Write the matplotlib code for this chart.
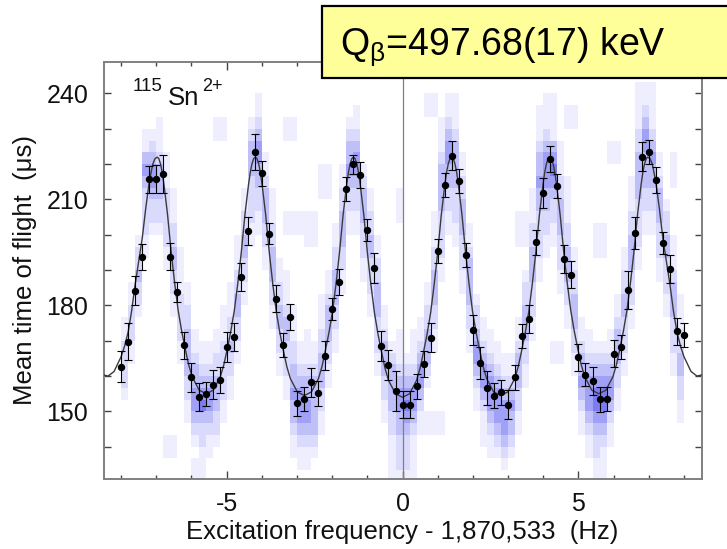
import numpy as np
import matplotlib
matplotlib.use("Agg")
import matplotlib.pyplot as plt
from matplotlib.colors import ListedColormap, BoundaryNorm
from matplotlib.patches import Rectangle
from matplotlib.ticker import FixedLocator, FuncFormatter

plt.rcParams["font.family"] = ["Liberation Sans", "DejaVu Sans"]
plt.rcParams["mathtext.fontset"] = "custom"
plt.rcParams["mathtext.rm"] = "Liberation Sans"
plt.rcParams["mathtext.it"] = "Liberation Sans:italic"
plt.rcParams["axes.unicode_minus"] = False

# ---- measured mean time of flight per excitation frequency ----
freq = [-8.0, -7.8, -7.6, -7.4, -7.2, -7.0, -6.8, -6.6, -6.4, -6.2,
        -6.0, -5.8, -5.6, -5.4, -5.2, -5.0, -4.8, -4.6, -4.4, -4.2,
        -4.0, -3.8, -3.6, -3.4, -3.2, -3.0, -2.8, -2.6, -2.4, -2.2,
        -2.0, -1.8, -1.6, -1.4, -1.2, -1.0, -0.8, -0.6, -0.4, -0.2,
        0.0, 0.2, 0.4, 0.6, 0.8, 1.0, 1.2, 1.4, 1.6, 1.8,
        2.0, 2.2, 2.4, 2.6, 2.8, 3.0, 3.2, 3.4, 3.6, 3.8,
        4.0, 4.2, 4.4, 4.6, 4.8, 5.0, 5.2, 5.4, 5.6, 5.8,
        6.0, 6.2, 6.4, 6.6, 6.8, 7.0, 7.2, 7.4, 7.6, 7.8, 8.0]

tof = [162.6, 169.7, 184.2, 193.7, 215.7, 215.8, 217.1, 193.8, 183.7, 168.7,
       159.6, 154.1, 155.0, 157.6, 159.0, 168.2, 171.0, 188.0, 201.0, 223.4,
       217.4, 200.3, 181.9, 168.8, 176.8, 152.3, 153.6, 158.2, 155.1, 165.8,
       179.1, 186.7, 213.0, 219.9, 216.9, 201.4, 190.6, 168.6, 163.2, 155.7,
       151.9, 151.9, 157.1, 163.4, 170.9, 195.5, 214.1, 222.4, 215.2, 194.3,
       173.1, 163.7, 156.6, 154.5, 155.4, 151.9, 159.6, 171.4, 176.2, 197.9,
       211.8, 221.4, 213.9, 193.1, 188.7, 165.3, 160.4, 158.7, 153.4, 153.6,
       166.3, 168.2, 184.4, 200.4, 222.1, 223.5, 215.5, 197.6, 190.3, 172.7, 171.6]

tof_err = [4.4, 5.2, 4.1, 3.6, 3.9, 3.9, 5.4, 3.9, 2.8, 3.9,
           4.0, 4.0, 3.4, 4.2, 3.7, 4.2, 4.0, 4.0, 3.9, 5.2,
           3.6, 3.0, 3.9, 3.5, 3.7, 3.5, 3.4, 4.0, 3.6, 4.0,
           3.1, 3.7, 3.5, 2.8, 3.7, 3.1, 4.2, 4.2, 4.2, 5.7,
           3.8, 3.8, 3.6, 3.8, 4.2, 3.4, 3.4, 4.1, 3.4, 3.3,
           4.3, 4.4, 4.8, 3.5, 3.5, 4.1, 3.5, 3.4, 3.9, 3.5,
           4.3, 3.6, 3.4, 4.0, 3.8, 3.9, 3.2, 4.0, 3.6, 3.4,
           3.8, 3.4, 5.3, 4.5, 4.1, 3.4, 3.8, 3.1, 4.0, 3.8, 3.5]

# ---- fitted Ramsey resonance curve ----
fit_freq = [-8.5, -8.37, -8.2, -8.0, -7.9, -7.8, -7.7, -7.6, -7.5, -7.4,
            -7.3, -7.2, -7.1, -7.04, -6.975,
            -6.93, -6.88, -6.83, -6.78, -6.68, -6.58, -6.48, -6.38, -6.28, -6.18,
            -6.08, -5.98, -5.78, -5.58,
            -5.38, -5.18, -5.08, -4.98, -4.88, -4.78, -4.68, -4.58, -4.48, -4.38,
            -4.33, -4.28, -4.23, -4.185,
            -4.14, -4.09, -4.04, -3.99, -3.89, -3.79, -3.69, -3.59, -3.49, -3.39,
            -3.29, -3.19, -2.99, -2.79,
            -2.59, -2.39, -2.29, -2.19, -2.09, -1.99, -1.89, -1.79, -1.69, -1.59,
            -1.54, -1.49, -1.44, -1.395,
            -1.35, -1.3, -1.25, -1.2, -1.1, -1.0, -0.9, -0.8, -0.7, -0.6,
            -0.5, -0.4, -0.2, 0.0,
            0.2, 0.4, 0.5, 0.6, 0.7, 0.8, 0.9, 1.0, 1.1, 1.2,
            1.25, 1.3, 1.35, 1.395,
            1.44, 1.49, 1.54, 1.59, 1.69, 1.79, 1.89, 1.99, 2.09, 2.19,
            2.29, 2.39, 2.59, 2.79,
            2.99, 3.19, 3.29, 3.39, 3.49, 3.59, 3.69, 3.79, 3.89, 3.99,
            4.04, 4.09, 4.14, 4.185,
            4.23, 4.28, 4.33, 4.38, 4.48, 4.58, 4.68, 4.78, 4.88, 4.98,
            5.08, 5.18, 5.38, 5.58,
            5.78, 5.98, 6.08, 6.18, 6.28, 6.38, 6.48, 6.58, 6.68, 6.78,
            6.83, 6.88, 6.93, 6.975,
            7.04, 7.1, 7.2, 7.3, 7.4, 7.5, 7.6, 7.7, 7.8, 7.9,
            8.0, 8.2, 8.37, 8.5]

fit_tof = [160.3, 160.0, 161.3, 165.5, 168.5, 172.5, 178.5, 186.0, 192.5, 199.0,
           207.5, 215.0, 220.0, 221.5, 222.0,
           221.6, 220.1, 217.6, 214.1, 205.7, 195.4, 186.5, 178.7, 172.8, 167.8,
           163.2, 159.8, 156.0, 155.0,
           156.0, 159.8, 163.2, 167.8, 172.8, 178.7, 186.5, 195.4, 205.7, 214.1,
           217.6, 220.1, 221.6, 222.0,
           221.6, 220.1, 217.6, 214.0, 205.6, 195.2, 186.2, 178.3, 172.4, 167.4,
           162.7, 159.3, 155.5, 154.5,
           155.5, 159.3, 162.7, 167.4, 172.4, 178.3, 186.2, 195.2, 205.6, 214.0,
           217.6, 220.1, 221.6, 222.0,
           221.6, 220.1, 217.6, 214.0, 205.5, 195.0, 186.0, 178.0, 172.0, 167.0,
           162.3, 158.8, 155.0, 154.0,
           155.0, 158.8, 162.3, 167.0, 172.0, 178.0, 186.0, 195.0, 205.5, 214.0,
           217.6, 220.1, 221.6, 222.0,
           221.6, 220.1, 217.6, 214.0, 205.6, 195.2, 186.2, 178.3, 172.4, 167.4,
           162.7, 159.3, 155.5, 154.5,
           155.5, 159.3, 162.7, 167.4, 172.4, 178.3, 186.2, 195.2, 205.6, 214.0,
           217.6, 220.1, 221.6, 222.0,
           221.6, 220.1, 217.6, 214.1, 205.7, 195.4, 186.5, 178.7, 172.8, 167.8,
           163.2, 159.8, 156.0, 155.0,
           156.0, 159.8, 163.2, 167.8, 172.8, 178.7, 186.5, 195.4, 205.7, 214.1,
           217.6, 220.1, 221.6, 222.0,
           221.5, 220.0, 215.0, 207.5, 199.0, 192.5, 186.0, 178.5, 172.5, 168.5,
           165.5, 161.3, 160.0, 160.3]

# ---- single-ion time-of-flight density map ----
# one entry per frequency interval; "row:levels" gives shade levels
# starting at that 10/3 us row (row 0 = 130 us)
tof_bin_edges = np.linspace(130.0, 250.0, 37)
hist_columns = [
    "7:1222211", "10:1122211", "14:1223221", "19:11222234311",
    "21:122344321", "21:1223332111", "2:11 18:1122222111",
    "2:11 14:11223322111", "10:1122221111", "5:112233332211",
    "0:1101234433211", "0:111223543211", "2:1123443211",
    "3:1223332211 29:11", "5:1122222111 29:11", "7:1122322111",
    "10:11223322111", "15:1122332211", "20:11222233321",
    "21:112233443211", "18:1122333211", "13:112233322111",
    "9:1122332211", "7:11222332111 21:11 29:11",
    "2:1123343322111 21:11 29:11", "1:11234443211 21:11",
    "1:112344332111 20:111", "2:1233333211 20:111",
    "4:112233322111 24:111", "8:1122333211 24:111",
    "11:11223332211", "16:11223332211", "21:1122343321",
    "21:11223443211", "17:1122233321", "14:11222332211",
    "9:112223332211", "5:1122333211", "0:111122333321",
    "0:1222334432111 22:111", "0:12223454321", "0:1111234432111",
    "4:1123443211", "4:1100123332211 31:11",
    "4:11 11:112233322111 31:11", "4:11 17:11222233332111",
    "21:112233443211", "20:1122233332111", "16:112223332211",
    "11:11223333211", "6:1123443221", "3:11123443211",
    "2:11234443211", "2:1234443211", "1:1234443211", "2:123343211",
    "4:1122333211 20:111", "8:1122333221 20:111",
    "12:1122233322111", "17:112222334332111", "19:11223344432111",
    "10:11 20:11223454321 29:1111", "10:11 16:1122233322111",
    "13:1122333221111 30:11", "9:11223332211 30:11",
    "4:1123433211", "2:11234443211", "0:112234554321 19:111",
    "0:111234554321 19:111", "3:1123443211 27:11",
    "6:1122333211 27:11", "9:11222332211", "13:1122233322111",
    "18:1122223333221111", "21:1122333443211", "21:1122334321111",
    "17:11222333211", "14:1122233221", "9:112223332111 25:111",
    "5:11223322111",
]
shade_colors = ["#eeeefe", "#dadafc", "#c0c0f9", "#a0a0f6", "#7c7cf2"]

density = np.zeros((len(tof_bin_edges) - 1, len(freq) - 1))
for col, spec in enumerate(hist_columns):
    for seg in spec.split():
        start, levels = seg.split(":")
        for i, ch in enumerate(levels):
            density[int(start) + i, col] = int(ch)
density = np.ma.masked_equal(density, 0)

fig = plt.figure(figsize=(7.27, 5.49), dpi=100)
ax = fig.add_axes([0.1424, 0.1284, 0.8226, 0.7592])

cmap = ListedColormap(shade_colors)
norm = BoundaryNorm([0.5, 1.5, 2.5, 3.5, 4.5, 5.5], cmap.N)
ax.pcolormesh(freq, tof_bin_edges, density, cmap=cmap, norm=norm,
              edgecolors="none", linewidth=0, antialiased=False, zorder=1)

ax.axvline(0, color="#808080", lw=0.9, zorder=2)
ax.plot(fit_freq, fit_tof, color="#3a3a3a", lw=1.0, zorder=3)
ax.errorbar(freq, tof, yerr=tof_err, fmt="o", color="black", ms=4.3,
            elinewidth=0.8, capsize=2.6, capthick=0.8, zorder=4)

ax.set_xlim(-8.5, 8.5)
ax.set_ylim(131, 249)

ax.xaxis.set_major_locator(FixedLocator([-5, 0, 5]))
ax.xaxis.set_minor_locator(FixedLocator([v for v in range(-8, 9) if v % 5 != 0]))
ax.yaxis.set_major_locator(FixedLocator(list(range(140, 250, 10))))
ax.yaxis.set_major_formatter(FuncFormatter(lambda v, p: f"{v:.0f}" if round(v) % 30 == 0 else ""))

ax.tick_params(which="both", direction="in", top=True, right=True,
               color="#444444", width=1.0, labelsize=18, labelcolor="#111111")
ax.tick_params(axis="x", which="major", length=5.5, pad=9.5)
ax.tick_params(axis="x", which="minor", length=3)
ax.tick_params(axis="y", which="major", length=5, pad=11)

for sp in ax.spines.values():
    sp.set_color("#808080")
    sp.set_linewidth(1.4)

ax.set_xlabel("Excitation frequency - 1,870,533  (Hz)", fontsize=18.5, color="#111111")
ax.set_ylabel("Mean time of flight  (μs)", fontsize=18.5, color="#111111")
ax.xaxis.set_label_coords(0.5, -0.1)
ax.yaxis.set_label_coords(-0.112, 0.5)

# ion label: mass number, element, charge state
label_anchor = (0.0493, 0.896)
ax.annotate("115", xy=label_anchor, xycoords="axes fraction", xytext=(0, 10),
            textcoords="offset points", fontsize=13.5, va="baseline", ha="left",
            color="#111111", zorder=5)
ax.annotate("Sn", xy=label_anchor, xycoords="axes fraction", xytext=(25.2, 0),
            textcoords="offset points", fontsize=18.5, va="baseline", ha="left",
            color="#111111", zorder=5)
ax.annotate("2+", xy=label_anchor, xycoords="axes fraction", xytext=(49.5, 10),
            textcoords="offset points", fontsize=13, va="baseline", ha="left",
            color="#111111", zorder=5)

fig.add_artist(Rectangle((0.443, 0.8574), 0.6, 0.1322, transform=fig.transFigure,
                         facecolor="#ffff99", edgecolor="black", lw=1.6, zorder=10))
fig.text(0.4677, 0.8998, "Q$_{\\mathrm{β}}$=497.68(17) keV", fontsize=27,
         va="baseline", ha="left", color="black", zorder=11)

fig.savefig("out.png", dpi=100)
